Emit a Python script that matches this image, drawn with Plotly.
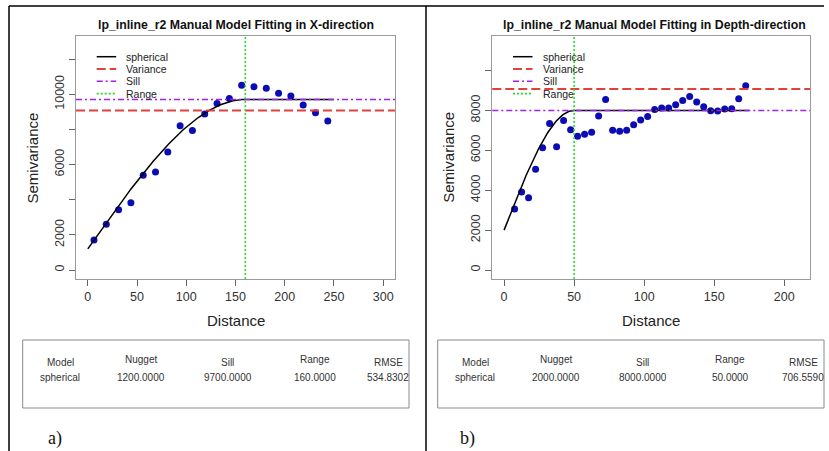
import numpy as np
import plotly.graph_objects as go

W, H = 829, 451

# Experimental semivariogram, X-direction
lag_x = [6.25, 18.75, 31.25, 43.75, 56.25, 68.75, 81.25, 93.75, 106.25, 118.75,
         131.25, 143.75, 156.25, 168.75, 181.25, 193.75, 206.25, 218.75, 231.25, 243.75]
gamma_x = [1710, 2600, 3430, 3830, 5390, 5580, 6720, 8200, 7930, 8880,
           9470, 9750, 10510, 10430, 10340, 10060, 9900, 9390, 8940, 8480]

# Experimental semivariogram, Depth-direction
lag_z = [7.5, 12.5, 17.5, 22.5, 27.5, 32.5, 37.5, 42.5, 47.5, 52.5,
         57.5, 62.5, 67.5, 72.5, 77.5, 82.5, 87.5, 92.5, 97.5, 102.5,
         107.5, 112.5, 117.5, 122.5, 127.5, 132.5, 137.5, 142.5, 147.5, 152.5,
         157.5, 162.5, 167.5, 172.5]
gamma_z = [3060, 3910, 3620, 5050, 6130, 7350, 6180, 7500, 7030, 6710,
           6800, 6900, 7720, 8550, 7010, 6960, 7010, 7280, 7520, 7700,
           8050, 8120, 8120, 8280, 8500, 8700, 8420, 8180, 7980, 7970,
           8070, 8080, 8580, 9240]

# Manually fitted spherical models
model_name = ["spherical", "spherical"]
nugget = [1200.0, 2000.0]
sill = [9700.0, 8000.0]
model_range = [160.0, 50.0]
rmse = [534.8302, 706.5590]
variance = [9070.0, 9070.0]
curve_max = [250.0, 175.0]

titles = ["lp_inline_r2 Manual Model Fitting in X-direction",
          "lp_inline_r2 Manual Model Fitting in Depth-direction"]
panel_tags = ["a)", "b)"]

x_ranges = [[-12, 312], [-8.4, 218.4]]
y_ranges = [[-512, 13312], [-451, 11730]]
x_ticks = [[0, 50, 100, 150, 200, 250, 300], [0, 50, 100, 150, 200]]
y_ticks = [[0, 2000, 4000, 6000, 8000, 10000, 12000], [0, 2000, 4000, 6000, 8000, 10000]]
y_tick_text = [["0", "2000", "", "6000", "", "10000", ""],
               ["0", "2000", "4000", "6000", "8000", ""]]

legend_names = ["spherical", "Variance", "Sill", "Range"]
table_headers = ["Model", "Nugget", "Sill", "Range", "RMSE"]

BLUE = "#0c0cb4"
RED = "#e0413c"
PURPLE = "#a020f0"
GREEN = "#22e022"
FONT = "Liberation Sans"


def px(x):
    return x / W


def py(y):
    return 1 - y / H


def spherical(h, c0, c, a):
    h = np.asarray(h, dtype=float)
    s = np.where(h < a, 1.5 * h / a - 0.5 * (h / a) ** 3, 1.0)
    return c0 + (c - c0) * s


# panel geometry in page pixels: left, right, top, bottom of plot box
boxes = [(76, 395, 36, 279), (492.3, 810, 36, 279)]
offsets = [0, 415]

fig = go.Figure()
shapes = []
annotations = []

data = [(lag_x, gamma_x), (lag_z, gamma_z)]
line_styles = [
    dict(color="black", width=1.5, dash="solid"),
    dict(color=RED, width=2, dash="9px,4px"),
    dict(color=PURPLE, width=1.5, dash="6px,3px,2px,3px"),
    dict(color=GREEN, width=1.6, dash="2px,2px"),
]

for i in range(2):
    xa = "x" if i == 0 else "x2"
    ya = "y" if i == 0 else "y2"
    L, R, T, B = boxes[i]
    lags, gam = data[i]

    fig.add_trace(go.Scatter(
        x=lags, y=gam, mode="markers", xaxis=xa, yaxis=ya,
        marker=dict(color=BLUE, size=7, line=dict(width=0)),
        showlegend=False, hoverinfo="skip"))

    hh = np.linspace(0, curve_max[i], 400)
    fig.add_trace(go.Scatter(
        x=hh, y=spherical(hh, nugget[i], sill[i], model_range[i]),
        mode="lines", xaxis=xa, yaxis=ya,
        line=dict(color="black", width=1.5),
        showlegend=False, hoverinfo="skip"))

    # reference lines: sample variance, sill, range
    shapes.append(dict(type="line", xref=f"{xa} domain", yref=ya, x0=0, x1=1,
                       y0=variance[i], y1=variance[i], layer="above",
                       line=line_styles[1]))
    shapes.append(dict(type="line", xref=f"{xa} domain", yref=ya, x0=0, x1=1,
                       y0=sill[i], y1=sill[i], layer="above",
                       line=line_styles[2]))
    shapes.append(dict(type="line", xref=xa, yref=f"{ya} domain",
                       x0=model_range[i], x1=model_range[i], y0=0, y1=1,
                       layer="above", line=line_styles[3]))

    # legend
    for k, name in enumerate(legend_names):
        yy = 56.7 + 12.3 * k
        lx0 = L + 20.7
        shapes.append(dict(type="line", xref="paper", yref="paper",
                           x0=px(lx0), x1=px(lx0 + 19.5), y0=py(yy), y1=py(yy),
                           line=line_styles[k]))
        annotations.append(dict(x=px(lx0 + 27.5), y=py(yy), xref="paper", yref="paper",
                                text=name, showarrow=False, xanchor="left",
                                yanchor="middle",
                                font=dict(family=FONT, size=10.5, color="#222")))

    # titles
    annotations.append(dict(x=px((L + R) / 2 + (0 if i == 0 else 3)), y=py(25),
                            xref="paper", yref="paper",
                            text=f"<b>{titles[i]}</b>", showarrow=False,
                            xanchor="center", yanchor="middle",
                            font=dict(family=FONT, size=12.3, color="#111")))
    annotations.append(dict(x=px((L + R) / 2), y=py(320), xref="paper", yref="paper",
                            text="Distance", showarrow=False, xanchor="center",
                            yanchor="middle",
                            font=dict(family=FONT, size=15, color="#222")))
    annotations.append(dict(x=px(L - 44), y=py((T + B) / 2), xref="paper", yref="paper",
                            text="Semivariance", showarrow=False, textangle=-90,
                            xanchor="center", yanchor="middle",
                            font=dict(family=FONT, size=15, color="#222")))

    # parameter table
    off = offsets[i]
    tl, tr, tt, tb = 22.7 + off, 409 + off, 340, 408
    shapes.append(dict(type="rect", xref="paper", yref="paper",
                       x0=px(tl), x1=px(tr), y0=py(tt), y1=py(tb),
                       line=dict(color="#8a8a8a", width=1)))
    col_x = [37.3, 118.3, 205, 292.3, 365.3]
    head_y = [362, 359, 362, 359, 362]
    values = [model_name[i], f"{nugget[i]:.4f}", f"{sill[i]:.4f}",
              f"{model_range[i]:.4f}", f"{rmse[i]:.4f}"]
    for c in range(5):
        annotations.append(dict(x=px(tl + col_x[c]), y=py(head_y[c]), xref="paper",
                                yref="paper", text=table_headers[c], showarrow=False,
                                xanchor="center", yanchor="middle",
                                font=dict(family=FONT, size=10, color="#333")))
        annotations.append(dict(x=px(tl + col_x[c]), y=py(377), xref="paper",
                                yref="paper", text=values[c], showarrow=False,
                                xanchor="center", yanchor="middle",
                                font=dict(family=FONT, size=10, color="#333")))

    annotations.append(dict(x=px(55 + off - 3 * i), y=py(438), xref="paper", yref="paper",
                            text=panel_tags[i], showarrow=False, xanchor="center",
                            yanchor="middle",
                            font=dict(family="Liberation Serif", size=18, color="#111")))

# document frame lines
for x0, y0, x1, y1 in [(9, 6, 824, 6), (9, 6, 9, 451), (426, 6, 426, 451)]:
    shapes.append(dict(type="line", xref="paper", yref="paper",
                       x0=px(x0), x1=px(x1), y0=py(y0), y1=py(y1),
                       line=dict(color="black", width=1.5)))

axis_common = dict(showgrid=False, zeroline=False, showline=True, mirror=True,
                   linecolor="#9a9a9a", linewidth=1.3, ticks="outside", ticklen=6,
                   tickcolor="#666", tickwidth=1,
                   tickfont=dict(family=FONT, size=12.5, color="#333"))

layout_axes = {}
for i in range(2):
    L, R, T, B = boxes[i]
    sx = "" if i == 0 else "2"
    layout_axes[f"xaxis{sx}"] = dict(axis_common, domain=[px(L), px(R)],
                                     range=x_ranges[i], tickvals=x_ticks[i],
                                     anchor=f"y{sx}")
    layout_axes[f"yaxis{sx}"] = dict(axis_common, domain=[py(B), py(T)],
                                     range=y_ranges[i], tickvals=y_ticks[i],
                                     ticktext=y_tick_text[i], tickangle=-90,
                                     anchor=f"x{sx}")

fig.update_layout(
    width=W, height=H,
    margin=dict(l=0, r=0, t=0, b=0),
    paper_bgcolor="white", plot_bgcolor="white",
    shapes=shapes, annotations=annotations,
    showlegend=False,
    **layout_axes,
)

fig.write_html("out.html")
